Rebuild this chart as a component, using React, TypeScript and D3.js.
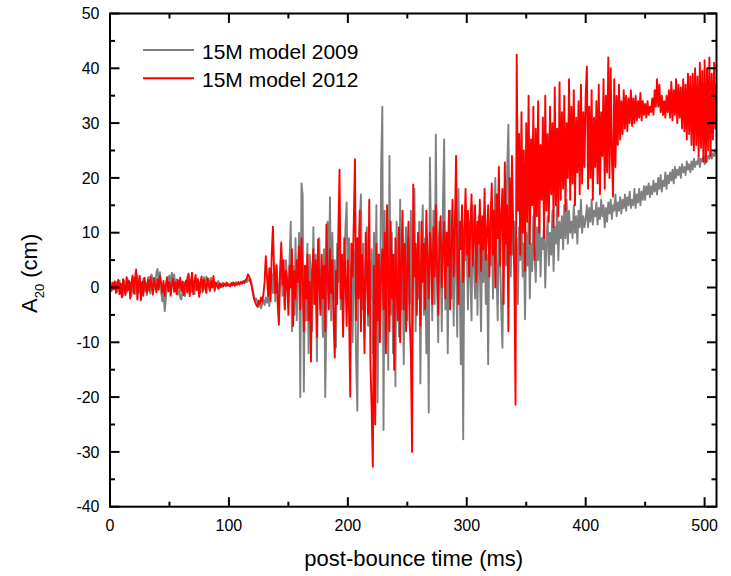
import React from "react";
import * as d3 from "d3";

// ---- axis ticks ----
const X_MAJOR = [0, 100, 200, 300, 400, 500];
const X_MINOR = [50, 150, 250, 350, 450];
const Y_MAJOR = [-40, -30, -20, -10, 0, 10, 20, 30, 40, 50];
const Y_MINOR = [-35, -25, -15, -5, 5, 15, 25, 35, 45];
const X_DOMAIN = [0, 510];
const Y_DOMAIN = [-40, 50];

const SERIES_NAMES = ["15M model 2009", "15M model 2012"];
const SERIES_COLORS = ["#808080", "#ff0000"];

// start time (ms) of each data segment; samples every 1 ms
const SEGMENT_STARTS = [0, 100, 200, 300, 400];

// ---- 15M model 2009 (A20 in cm) ----
const gray0 = [
  0, 0.3, -0.5, 0.8, -0.2, 1.0, -0.8, 0.4, 1.2, -1.0,
  0.6, -1.5, 1.3, 0.2, -0.9, 1.5, -0.4, 0.9, -1.6, 0.5,
  1.8, -1.2, 0.7, 2.2, -1.0, 1.1, -1.8, 0.4, 1.6, -0.7,
  0.9, -1.4, 1.9, 0.1, -1.1, 2.4, 0.6, 1.8, -0.5, 2.6,
  3.4, 1.0, 2.8, -0.8, -2.5, -1.2, -4.3, -2.0, 0.5, 1.6,
  2.2, 0.4, 2.7, 1.1, 2.4, -0.6, 1.5, -1.3, 0.8, -1.9,
  -2.2, -0.5, 1.0, -1.6, 0.3, 1.9, 2.4, 0.2, 1.4, -0.8,
  0.9, -1.2, 0.6, 1.5, -0.4, 0.8, -1.0, 1.2, 0.1, 1.9,
  -0.3, 2.0, 0.5, 1.6, -0.6, 1.8, 0.2, 1.1, -0.7, 0.9,
  0.3, 1.2, -0.2, 0.7, 0.1, 0.9, 0.4, 0.6, 0.2, 0.8,
];
const gray1 = [
  0.3, 0.7, 0.5, 0.9, 0.6, 0.4, 1.0, 0.7, 0.9, 0.5,
  1.1, 0.8, 1.2, 0.9, 1.4, 1.0, 1.5, 1.2, 1.6, 0.8,
  -0.5, -1.6, -2.4, -2.0, -2.8, -3.5, -2.6, -3.8, -3.0, -2.2,
  -3.2, -1.8, -2.8, -1.2, -3.4, 0.5, 2.5, -1.0, 3.5, -2.5,
  4.2, 1.0, -3.5, 2.0, 6.5, -1.5, 3.0, -4.0, 5.0, 1.5,
  -3.0, 5.0, 12.0, -8.0, 4.0, -5.0, 9.0, -6.0, 3.0, 10.0,
  -20.0, 19.0, 17.0, -19.0, 4.0, -6.0, 8.0, -12.0, 6.0, 2.0,
  -8.0, 11.0, -3.0, 6.0, -13.5, 4.0, 9.0, -4.0, 3.0, -9.0,
  7.0, -20.0, -5.0, 12.0, 2.0, 16.5, -6.0, 10.0, -2.0, 5.0,
  -11.0, 8.0, 1.0, 13.0, -4.0, 6.0, -8.0, 3.0, 11.0, 15.5,
];
const gray2 = [
  -3.0, 9.0, -6.0, 4.0, -10.0, 7.0, 2.0, -14.0, -22.5, 6.0,
  12.0, 17.0, -4.0, 8.0, -9.0, 3.0, 11.0, -7.0, 5.0, -2.0,
  7.0, -12.0, 10.0, -4.0, 15.0, -21.0, 6.0, -8.0, 22.0, 33.0,
  -26.0, 14.0, -10.0, 8.0, -15.0, 24.0, -5.0, 10.0, -12.0, 6.0,
  -18.0, 12.0, 2.0, -9.0, 16.0, -4.0, 8.0, -14.0, 5.0, 11.0,
  -6.0, 9.0, -3.0, 14.0, -10.0, 4.0, 18.0, -8.0, 7.0, -2.0,
  12.0, -17.5, 6.0, 15.0, -5.0, 9.0, -12.0, 4.0, -22.8, 23.7,
  8.0, -6.0, 14.0, -3.0, 27.9, 2.0, -10.0, 12.0, 5.0, -8.0,
  16.0, 27.0, -4.0, 10.0, -12.0, 6.0, 14.0, -2.0, 8.0, -7.0,
  13.0, 4.0, -9.0, 18.0, 2.0, -14.0, 9.0, -27.7, 11.0, 5.0,
];
const gray3 = [
  8.0, -4.0, 12.0, 2.0, -6.0, 15.0, 4.0, -2.0, 10.0, -5.0,
  13.0, 3.0, -8.0, 9.0, 1.0, 14.0, -3.0, 6.0, -14.0, 11.0,
  4.0, 16.0, -2.0, 8.0, 20.0, 3.0, -6.0, 12.0, 6.0, -4.0,
  -11.0, 9.0, 15.0, 4.0, 22.0, 29.7, 10.0, 2.0, 14.0, 6.0,
  12.0, 1.0, 9.0, -3.0, 11.0, 5.0, 14.0, 2.0, 8.0, -5.8,
  10.0, 4.0, 12.0, -2.0, 8.0, 3.0, 13.0, 6.0, 1.0, 11.0,
  5.0, 14.0, 2.0, 9.0, 7.0, 12.0, 0.0, 8.0, 13.0, 4.0,
  10.0, 6.0, 14.0, 3.0, 11.0, 8.0, 15.0, 5.0, 12.0, 9.0,
  13.0, 7.0, 15.0, 9.0, 16.0, 8.0, 14.0, 10.0, 12.0, 9.0,
  15.0, 10.0, 13.0, 8.0, 14.0, 11.0, 16.0, 10.0, 13.0, 11.0,
];
const gray4 = [
  12.5, 15.0, 11.0, 14.5, 12.0, 16.0, 11.5, 14.0, 13.0, 15.5,
  11.5, 14.5, 12.5, 16.0, 13.0, 15.0, 11.0, 14.5, 12.0, 15.5,
  13.5, 16.0, 12.5, 15.0, 14.0, 17.0, 13.0, 15.5, 14.0, 16.5,
  13.5, 16.0, 14.5, 17.0, 14.0, 16.5, 15.0, 17.5, 14.5, 16.0,
  15.0, 18.0, 14.5, 17.0, 15.5, 18.0, 15.0, 17.5, 16.0, 18.5,
  16.0, 18.5, 17.0, 19.0, 16.5, 18.5, 17.0, 19.5, 17.5, 19.0,
  17.0, 20.0, 18.0, 20.5, 17.5, 19.5, 18.5, 21.0, 18.0, 20.5,
  19.0, 21.0, 19.5, 21.5, 19.0, 22.0, 20.0, 21.5, 20.5, 22.0,
  20.0, 22.5, 21.0, 22.0, 20.5, 23.0, 21.5, 22.5, 21.0, 23.0,
  21.5, 23.5, 22.0, 23.0, 22.5, 24.0, 22.0, 23.5, 23.0, 24.0,
  22.5, 24.5, 23.0, 24.0, 23.5, 25.0, 23.5, 24.5, 24.0, 25.0, 24.5,
];

// ---- 15M model 2012 (A20 in cm) ----
const red0 = [
  0.2, -0.6, 0.9, -0.3, 1.1, -1.0, 0.5, 1.4, -1.2, 0.7,
  -1.8, 1.5, 0.0, -1.4, 1.9, -0.5, 1.2, -2.0, 0.8, 2.2,
  -1.1, 1.6, 3.3, -2.2, 0.9, 2.1, -2.3, 1.0, -1.5, 1.8,
  0.2, -1.0, 1.4, -0.6, 2.0, 0.4, -1.3, 1.7, 0.6, -0.9,
  1.5, -0.4, 2.1, 0.8, -1.0, 1.2, -1.6, 0.5, 1.9, -0.7,
  1.0, -1.5, 0.4, 1.6, -0.8, 0.9, -1.2, 1.4, 0.0, 1.8,
  -0.6, 1.1, -1.4, 0.6, 1.3, -0.9, 2.5, -1.6, 0.8, 2.7,
  -1.2, 1.0, 2.3, -0.5, 1.5, -1.7, 0.9, 2.0, -0.8, 1.4,
  0.3, -1.0, 1.7, 0.5, -0.6, 1.2, 0.0, 2.1, -0.4, 0.9,
  0.4, -0.2, 0.8, 0.1, 0.6, 0.2, 0.7, 0.3, 0.9, 0.4,
];
const red1 = [
  0.5, 0.2, 0.8, 0.4, 0.9, 0.3, 0.7, 0.5, 1.0, 0.6,
  0.9, 0.7, 1.1, 0.8, 1.3, 1.6, 2.4, 2.0, 1.2, 0.4,
  -0.8, -2.0, -2.6, -3.2, -3.5, -2.4, -3.0, -1.8, -2.6, -1.2,
  1.0, 5.7, 2.0, -1.5, 3.5, -2.5, 6.0, 11.1, 3.0, -1.0,
  4.0, -3.0, -6.8, 2.5, 8.2, 0.5, 5.0, -4.0, 3.0, 1.0,
  -5.0, 4.0, 0.0, 7.0, -7.0, 3.0, -2.0, 5.0, 1.0, 7.5,
  -4.0, 9.0, 2.0, -8.0, 4.0, -2.0, 6.0, -6.0, 1.0, -13.5,
  3.0, 7.0, -3.0, 5.0, -9.0, 8.8, 1.0, -5.0, 6.0, -2.0,
  4.0, -8.0, 11.5, 2.0, -4.0, 7.0, -1.0, 5.0, -6.0, -12.8,
  3.0, -3.0, 10.0, 21.5, -2.0, 6.0, -9.0, 9.0, 2.0, -7.0,
];
const red2 = [
  5.0, -4.0, -19.9, 8.0, 2.0, 12.0, 23.4, -6.0, 9.0, -2.0,
  14.0, -8.0, 6.0, 1.0, -12.0, 10.0, 3.0, -5.0, 16.0, -14.0,
  -22.0, -32.7, 4.0, -25.0, 8.0, -6.0, 6.0, -10.0, 3.0, 7.0,
  -4.0, 10.0, -12.0, 15.0, 2.0, -8.0, 12.0, -2.0, 6.0, -15.0,
  9.0, 0.0, -6.0, 11.0, -10.0, 5.0, 14.0, -4.0, 8.0, -8.0,
  4.0, 12.0, -6.0, -12.0, -30.0, 18.8, 2.0, 8.0, -5.0, 10.0,
  3.0, -7.0, 12.0, 1.0, 8.0, -4.0, 14.0, 5.0, -2.0, 10.0,
  6.0, -3.0, 11.0, 2.0, 15.0, 4.0, -5.0, 9.0, 13.0, 0.0,
  7.0, 12.0, -2.0, 10.0, 4.0, 14.0, -4.0, 8.0, 16.0, 2.0,
  11.0, 24.0, 5.0, -3.0, 12.0, 7.0, 15.0, 1.0, 10.0, 18.0,
];
const red3 = [
  6.0, 14.0, 2.0, 11.0, 17.0, 4.0, 9.0, 15.0, 1.0, 12.0,
  8.0, 16.0, 3.0, 13.0, 7.0, 18.0, 5.0, 10.0, 15.0, 2.0,
  12.0, 19.0, 6.0, 14.0, 0.0, 17.0, 9.0, 22.0, 4.0, 13.0,
  18.0, -3.0, 22.8, 8.0, 15.0, -8.0, 20.0, 6.0, 24.0, 11.0,
  2.0, -21.4, 42.5, 14.0, 28.0, 6.0, 32.0, 10.0, 25.0, 3.0,
  30.0, 12.0, 35.0, 8.0, 27.0, 15.0, 33.0, 5.0, 29.0, 13.0,
  34.0, 10.0, 26.0, 16.0, 31.0, 9.0, 35.0, 14.0, 28.0, 12.0,
  33.0, 17.0, 30.0, 11.0, 36.5, 15.0, 29.0, 13.0, 37.4, 16.0,
  32.0, 18.0, 35.0, 14.0, 30.0, 20.0, 38.0, 16.0, 33.0, 19.0,
  36.0, 15.0, 31.0, 21.0, 34.0, 17.0, 37.0, 19.0, 32.0, 22.0,
];
const red4 = [
  35.0, 40.3, 18.0, 33.0, 20.0, 36.0, 16.0, 31.0, 22.0, 34.0,
  19.0, 37.0, 17.0, 32.0, 24.0, 38.0, 18.0, 35.0, 21.0, 42.0,
  20.0, 40.0, 24.0, 16.6, 38.0, 22.0, 35.0, 26.0, 37.0, 27.0,
  34.0, 28.0, 36.0, 29.0, 35.0, 28.5, 34.5, 30.0, 36.0, 29.5,
  34.5, 30.0, 35.0, 30.5, 34.0, 31.0, 35.5, 30.5, 34.0, 31.5,
  33.5, 31.0, 34.0, 31.5, 33.0, 32.0, 34.5, 31.5, 36.0, 33.0,
  38.0, 33.0, 37.0, 32.0, 35.0, 31.5, 34.0, 31.0, 35.0, 32.0,
  36.0, 31.0, 37.5, 30.5, 36.0, 31.5, 38.0, 30.0, 37.0, 31.0,
  36.5, 29.0, 38.0, 28.5, 37.0, 27.0, 39.0, 28.0, 38.5, 26.0,
  39.0, 25.0, 40.0, 26.0, 38.5, 24.0, 41.0, 25.5, 39.5, 23.0,
  41.5, 22.8, 40.0, 25.0, 42.0, 24.0, 39.0, 27.0, 41.0, 29.0, 37.0,
];

const GRAY_SEGMENTS = [gray0, gray1, gray2, gray3, gray4];
const RED_SEGMENTS = [red0, red1, red2, red3, red4];

const FONT = "'Liberation Sans', Arial, Helvetica, sans-serif";

function toPoints(segments: number[][]): [number, number][] {
  const pts: [number, number][] = [];
  segments.forEach((seg, k) => {
    seg.forEach((v, i) => pts.push([SEGMENT_STARTS[k] + i, v]));
  });
  return pts;
}

export default function App() {
  const W = 731;
  const H = 576;
  const left = 110;
  const right = 716.5;
  const top = 13.5;
  const bottom = 506.7;

  const x = d3.scaleLinear().domain(X_DOMAIN).range([left, right]);
  const y = d3.scaleLinear().domain(Y_DOMAIN).range([bottom, top]);

  const line = d3
    .line<[number, number]>()
    .x((d) => x(d[0]))
    .y((d) => y(d[1]));

  const series = [toPoints(GRAY_SEGMENTS), toPoints(RED_SEGMENTS)];

  const axisColor = "#000";
  const major = 9.5;
  const minor = 5;
  const sw = 2;

  return (
    <svg
      width={W}
      height={H}
      style={{ position: "absolute", left: 0, top: 0, background: "#fff" }}
      fontFamily={FONT}
    >
      <defs>
        <clipPath id="plotClip">
          <rect x={left} y={top} width={right - left} height={bottom - top} />
        </clipPath>
      </defs>

      <g clipPath="url(#plotClip)">
        {series.map((pts, i) => (
          <path
            key={i}
            d={line(pts) || ""}
            fill="none"
            stroke={SERIES_COLORS[i]}
            strokeWidth={1.9}
            strokeLinejoin="round"
          />
        ))}
      </g>

      {/* frame */}
      <rect
        x={left}
        y={top}
        width={right - left}
        height={bottom - top}
        fill="none"
        stroke={axisColor}
        strokeWidth={sw}
      />

      {/* x ticks bottom & top */}
      {X_MAJOR.map((t) => (
        <g key={"xm" + t}>
          <line x1={x(t)} x2={x(t)} y1={bottom} y2={bottom - major} stroke={axisColor} strokeWidth={sw} />
          <line x1={x(t)} x2={x(t)} y1={top} y2={top + major} stroke={axisColor} strokeWidth={sw} />
          <text x={x(t)} y={531} textAnchor="middle" fontSize={16} fill="#000">
            {t}
          </text>
        </g>
      ))}
      {X_MINOR.map((t) => (
        <g key={"xn" + t}>
          <line x1={x(t)} x2={x(t)} y1={bottom} y2={bottom - minor} stroke={axisColor} strokeWidth={sw} />
          <line x1={x(t)} x2={x(t)} y1={top} y2={top + minor} stroke={axisColor} strokeWidth={sw} />
        </g>
      ))}

      {/* y ticks left & right */}
      {Y_MAJOR.map((t) => (
        <g key={"ym" + t}>
          <line x1={left} x2={left + major} y1={y(t)} y2={y(t)} stroke={axisColor} strokeWidth={sw} />
          <line x1={right} x2={right - major} y1={y(t)} y2={y(t)} stroke={axisColor} strokeWidth={sw} />
          <text x={99.5} y={y(t)} dy="0.36em" textAnchor="end" fontSize={16} fill="#000">
            {t}
          </text>
        </g>
      ))}
      {Y_MINOR.map((t) => (
        <g key={"yn" + t}>
          <line x1={left} x2={left + minor} y1={y(t)} y2={y(t)} stroke={axisColor} strokeWidth={sw} />
          <line x1={right} x2={right - minor} y1={y(t)} y2={y(t)} stroke={axisColor} strokeWidth={sw} />
        </g>
      ))}

      {/* axis titles */}
      <text
        x={(left + right) / 2 + 0.5}
        y={566}
        textAnchor="middle"
        fontSize={22}
        fill="#000"
      >
        post-bounce time (ms)
      </text>
      <text transform="translate(37,313) rotate(-90)" fontSize={22} fill="#000">
        A
        <tspan fontSize={13} dy={7}>
          20
        </tspan>
        <tspan dy={-7}> (cm)</tspan>
      </text>

      {/* legend */}
      {SERIES_NAMES.map((name, i) => (
        <g key={name}>
          <line
            x1={143}
            x2={194}
            y1={50 + i * 28.3}
            y2={50 + i * 28.3}
            stroke={SERIES_COLORS[i]}
            strokeWidth={2}
          />
          <text x={202} y={58.5 + i * 28.3} fontSize={21} fill="#000">
            {name}
          </text>
        </g>
      ))}
    </svg>
  );
}
